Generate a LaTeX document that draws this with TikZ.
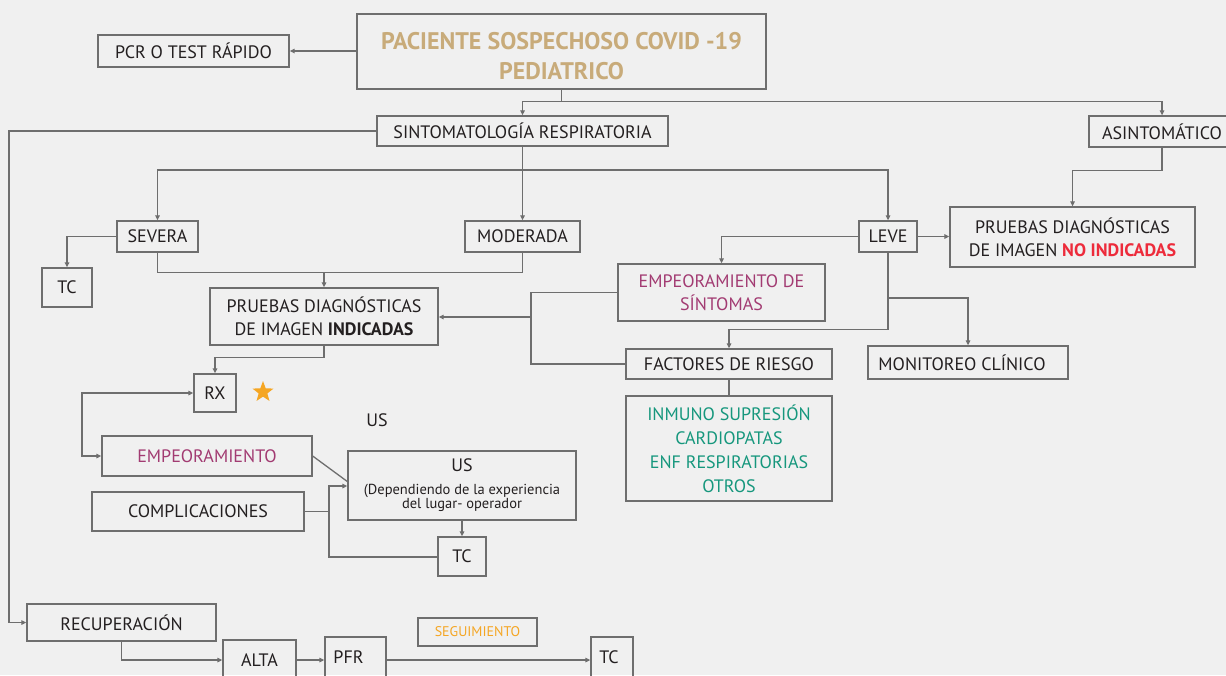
\documentclass[tikz,border=0pt]{standalone}
\usepackage{fontspec}
\setmainfont{PT Sans}
\usetikzlibrary{arrows.meta,shapes.geometric}
\definecolor{bgc}{HTML}{F0F0F0}
\definecolor{boxc}{HTML}{6E6E6E}
\definecolor{txt}{HTML}{231F20}
\definecolor{tan}{HTML}{C8AB7A}
\definecolor{mag}{HTML}{A23B72}
\definecolor{grn}{HTML}{16977D}
\definecolor{redc}{HTML}{ED2B3B}
\definecolor{orng}{HTML}{F5A623}
\tikzset{
  box/.style={draw=boxc, line width=1.3pt, inner sep=0pt, align=center, text=txt,
    font=\fontsize{18}{23}\selectfont},
  conn/.style={draw=boxc, line width=1.3pt},
  arr/.style={conn, -{Triangle[length=5pt,width=4.5pt]}},
  arrboth/.style={conn, {Triangle[length=5pt,width=4.5pt]}-{Triangle[length=5pt,width=4.5pt]}},
  plain/.style={inner sep=0pt, text=txt, font=\fontsize{18}{23}\selectfont}
}
\begin{document}
\begin{tikzpicture}[x=1pt,y=-1pt]
\useasboundingbox (0,0) rectangle (1226,675);
\clip (0,0) rectangle (1226,675);
\fill[bgc] (0,0) rectangle (1226,675);

% boxes
\node[box, minimum width=409, minimum height=75, text=tan,
  font=\fontsize{24}{30}\selectfont\bfseries] (title) at (561.5,51.5)
  {\rule{0pt}{26pt}PACIENTE SOSPECHOSO COVID -19\\PEDIATRICO};
\node[box, minimum width=191, minimum height=32] (pcr) at (193.5,51) {PCR O TEST RÁPIDO};
\node[box, minimum width=291, minimum height=30] (sinto) at (522.5,131) {SINTOMATOLOGÍA RESPIRATORIA};
\node[box, minimum width=146, minimum height=31] (asin) at (1162,131.5) {ASINTOMÁTICO};
\node[box, minimum width=245, minimum height=60] (pnoind) at (1072.5,237)
  {PRUEBAS DIAGNÓSTICAS\\DE IMAGEN \textcolor{redc}{\bfseries NO INDICADAS}};
\node[box, minimum width=58, minimum height=31] (leve) at (888,236.5) {LEVE};
\node[box, minimum width=81, minimum height=31] (severa) at (157.5,236.5) {SEVERA};
\node[box, minimum width=115, minimum height=31] (moderada) at (522.5,236.5) {MODERADA};
\node[box, minimum width=50, minimum height=39] (tc1) at (67,287.5) {TC};
\node[box, minimum width=228, minimum height=57] (pind) at (324,316.5)
  {PRUEBAS DIAGNÓSTICAS\\DE IMAGEN \textbf{INDICADAS}};
\node[box, minimum width=207, minimum height=57, text=mag] (empsint) at (721.5,292.5)
  {EMPEORAMIENTO DE\\SÍNTOMAS};
\node[box, minimum width=206, minimum height=30] (factores) at (729,364) {FACTORES DE RIESGO};
\node[box, minimum width=200, minimum height=33] (monitoreo) at (968,362.5) {MONITOREO CLÍNICO\hspace*{12pt}};
\node[box, minimum width=206, minimum height=105, text=grn, font=\fontsize{18}{24}\selectfont] (inmuno) at (729,448.5)
  {INMUNO SUPRESIÓN\\CARDIOPATAS\\ENF RESPIRATORIAS\\OTROS};
\node[box, minimum width=42, minimum height=38] (rx) at (215,393) {RX};
\node[star, star points=5, star point ratio=2.4, minimum size=22pt, inner sep=0pt,
  fill=orng] (star) at (263,392) {};
\node[plain] (uslabel) at (377,420) {US};
\node[box, minimum width=210, minimum height=40, text=mag] (emp) at (207,456) {EMPEORAMIENTO};
\node[box, minimum width=228, minimum height=69] (us) at (462,485.5)
  {US\\[0pt]{\fontsize{14.5}{13}\selectfont (Dependiendo de la experiencia}\\[-9pt]{\fontsize{14.5}{13}\selectfont del lugar- operador}};
\node[box, minimum width=212, minimum height=39] (compl) at (198,511.5) {COMPLICACIONES};
\node[box, minimum width=48, minimum height=39] (tc2) at (462,556.5) {TC};
\node[box, minimum width=189, minimum height=37] (recup) at (121.5,622.5) {RECUPERACIÓN};
\node[box, minimum width=73, minimum height=40] (alta) at (259.5,660) {ALTA};
\node[box, minimum width=61, minimum height=40] (pfr) at (355.5,657) {PFR\hspace*{14pt}};
\node[box, minimum width=119, minimum height=28, text=orng, font=\fontsize{14}{15}\selectfont] (seg) at (477.5,632) {SEGUIMIENTO};
\node[box, minimum width=42, minimum height=40] (tc3) at (612,657) {TC\hspace*{6pt}};

% junction points
\coordinate (lrail) at (9,131);
\coordinate (hb) at (522.5,170);
\coordinate (lv1) at (888,298);
\coordinate (sm) at (324,272);
\coordinate (jn) at (531,317);
\coordinate (lp) at (82,393);
\coordinate (usin) at (348,482);
\coordinate (ct) at (329,486);
\coordinate (cb) at (329,557);

% connectors
\draw[arr] (title.west |- pcr.east) -- (pcr.east);
\draw[arr] (title.south) -- ++(0,12) -| (sinto.north);
\draw[arr] (title.south) -- ++(0,12) -| (asin.north);
\draw[arr] (sinto.west) -- (lrail) |- (recup.west);
\draw[arr] (sinto.south) -- (moderada.north);
\draw[arr] (hb) -| (severa.north);
\draw[arr] (hb) -| (leve.north);
\draw[arr] (asin.south) -- ++(0,23) -| (pnoind.north);
\draw[arr] (leve.east) -- (pnoind.west |- leve.east);
\draw[arr] (leve.west) -| (empsint.north);
\draw[arr] (leve.south) -- ++(0,77) -| (factores.north);
\draw[arr] (lv1) -| (monitoreo.north);
\draw[arr] (severa.west) -| (tc1.north);
\draw[conn] (severa.south) -- ++(0,20) -| (moderada.south);
\draw[arr] (sm) -- (pind.north);
\draw[conn] (empsint.west) -| (jn) |- (factores.west);
\draw[arr] (jn) -- (pind.east |- jn);
\draw[arr] (pind.south) -- ++(0,12) -| (rx.north);
\draw[conn] (factores.south) -- (inmuno.north);
\draw[arrboth] (rx.west) -- (lp) |- (emp.west);
\draw[conn] (emp.east) -- (usin);
\draw[arr] (compl.east -| ct) -- (ct) -- (us.west |- ct);
\draw[conn] (compl.east) -- (compl.east -| cb) -- (cb) -- (tc2.west |- cb);
\draw[arr] (us.south) -- (tc2.north);
\draw[arr] (recup.south) |- (alta.west);
\draw[arr] (alta.east) -- (pfr.west |- alta.east);
\draw[arr] (pfr.east |- alta.east) -- (tc3.west |- alta.east);
\end{tikzpicture}
\end{document}
